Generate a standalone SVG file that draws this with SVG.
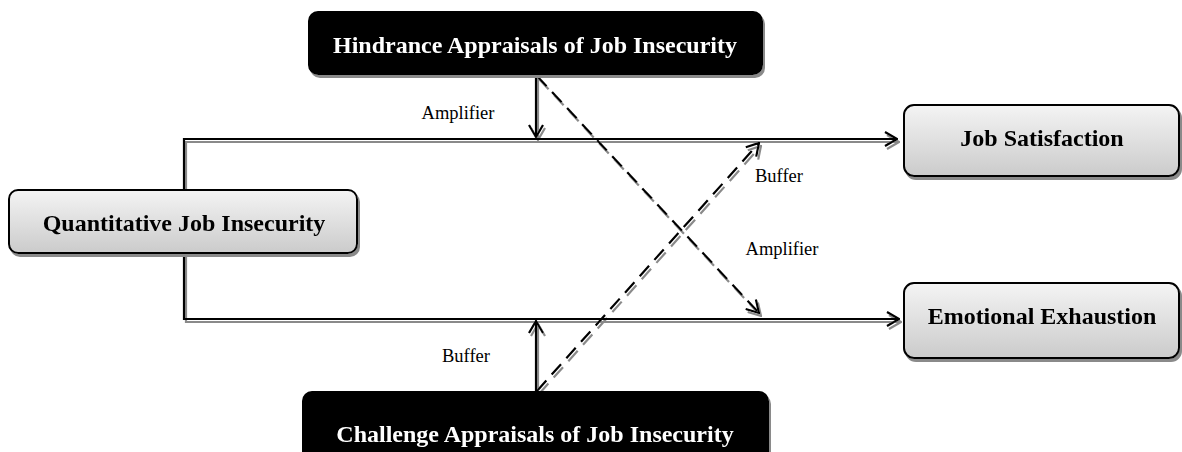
<svg xmlns="http://www.w3.org/2000/svg" width="1182" height="452" viewBox="0 0 1182 452">
<style>
.box{fill:url(#g);stroke:#000;stroke-width:2}
.dark{fill:#000;stroke:#000;stroke-width:2}
.t{font-family:"Liberation Serif","Times New Roman",serif;font-weight:bold;font-size:24px;text-anchor:middle;fill:#000}
.tw{fill:#fff}
.lbl{font-family:"Liberation Serif","Times New Roman",serif;font-size:18.5px;text-anchor:middle;fill:#000}
.ln{fill:none;stroke:#000;stroke-width:2.2}
.ds{stroke-dasharray:14 8}
</style>
<defs>
<linearGradient id="g" x1="0" y1="0" x2="0" y2="1">
<stop offset="0" stop-color="#f4f4f4"/>
<stop offset="1" stop-color="#cbcbcb"/>
</linearGradient>
<filter id="sh" x="-5%" y="-5%" width="110%" height="120%">
<feDropShadow dx="2" dy="3" stdDeviation="0.6" flood-color="#8a8a8a" flood-opacity="1"/>
</filter>
<marker id="a" viewBox="0 0 14 16" refX="13" refY="8" markerWidth="14" markerHeight="16" markerUnits="userSpaceOnUse" orient="auto">
<path d="M1,1 L13,8 L1,15" fill="none" stroke="#000" stroke-width="2.2"/>
</marker>
</defs>
<g id="connectors" filter="url(#sh)">
<path class="ln" d="M184,190 V139 H897" marker-end="url(#a)"/>
<path class="ln" d="M184,253 V319 H899" marker-end="url(#a)"/>
<path class="ln" d="M536,75 V137" marker-end="url(#a)"/>
<path class="ln" d="M536,392 V321" marker-end="url(#a)"/>
<path class="ln ds" d="M537,76 L759,313" marker-end="url(#a)"/>
<path class="ln ds" d="M537,391 L759,143" marker-end="url(#a)"/>
</g>
<g id="labels">
<text class="lbl" x="458" y="119">Amplifier</text>
<text class="lbl" x="779" y="182">Buffer</text>
<text class="lbl" x="782" y="255">Amplifier</text>
<text class="lbl" x="466" y="362">Buffer</text>
</g>
<g id="hindrance" filter="url(#sh)">
<rect class="dark" x="309" y="12" width="453" height="62" rx="9"/>
<text class="t tw" x="535" y="53">Hindrance Appraisals of Job Insecurity</text>
</g>
<g id="challenge" filter="url(#sh)">
<rect class="dark" x="303" y="392" width="465" height="70" rx="9"/>
<text class="t tw" x="535" y="442">Challenge Appraisals of Job Insecurity</text>
</g>
<g id="quantitative" filter="url(#sh)">
<rect class="box" x="9" y="190" width="348" height="63" rx="9"/>
<text class="t" x="184" y="231">Quantitative Job Insecurity</text>
</g>
<g id="satisfaction" filter="url(#sh)">
<rect class="box" x="904" y="105" width="275" height="71" rx="10"/>
<text class="t" x="1042" y="146">Job Satisfaction</text>
</g>
<g id="exhaustion" filter="url(#sh)">
<rect class="box" x="904" y="283" width="275" height="75" rx="10"/>
<text class="t" x="1042" y="324">Emotional Exhaustion</text>
</g>
</svg>
